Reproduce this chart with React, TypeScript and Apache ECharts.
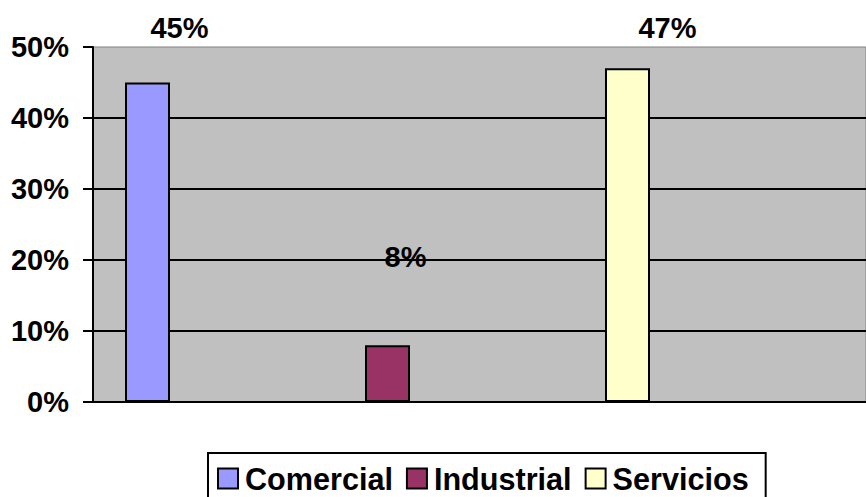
import React, { useEffect, useRef } from 'react';
import * as echarts from 'echarts';

const categories = ['Comercial', 'Industrial', 'Servicios'];
const shares = [45, 8, 47];
const axisSlots = ['', '', '', ''];

const COLORS = ['#9999ff', '#993366', '#ffffcc'];
const LABEL_OFFSETS = [
  [32, -40],
  [18, -74],
  [40, -26],
];
const FONT = "'Liberation Sans', Arial, sans-serif";

export default function App() {
  const ref = useRef<HTMLDivElement>(null);
  useEffect(() => {
    const chart = echarts.init(ref.current!, null, { renderer: 'svg' });
    const labelText = { color: '#000', fontSize: 29, fontWeight: 'bold', fontFamily: FONT };
    chart.setOption({
      animation: false,
      backgroundColor: '#ffffff',
      grid: [
        {
          left: 93,
          top: 47,
          width: 785,
          height: 355,
          show: true,
          backgroundColor: '#c0c0c0',
          borderColor: '#808080',
          borderWidth: 1,
        },
        { left: 27.5, top: 47, width: 720, height: 355 },
      ],
      xAxis: [
        {
          type: 'category',
          gridIndex: 0,
          data: axisSlots,
          axisLine: { lineStyle: { color: '#000', width: 2 } },
          axisTick: { length: 7, lineStyle: { color: '#000', width: 2 } },
          axisLabel: { show: false },
          splitLine: { show: false },
        },
        { type: 'category', gridIndex: 1, data: categories, show: false },
      ],
      yAxis: [
        {
          type: 'value',
          gridIndex: 0,
          min: 0,
          max: 50,
          interval: 10,
          axisLine: { show: true, lineStyle: { color: '#000', width: 2 } },
          axisTick: { show: true, length: 10, lineStyle: { color: '#000', width: 2 } },
          axisLabel: { formatter: '{value}%', margin: 24, ...labelText },
          splitLine: { show: true, showMaxLine: false, lineStyle: { color: '#000', width: 2 } },
        },
        { type: 'value', gridIndex: 1, min: 0, max: 50, show: false },
      ],
      legend: {
        data: categories,
        left: 208,
        top: 453,
        orient: 'horizontal',
        icon: 'rect',
        itemWidth: 20,
        itemHeight: 20,
        itemGap: 13,
        borderColor: '#000',
        borderWidth: 2,
        padding: [10, 17, 20, 9],
        textStyle: { ...labelText, fontSize: 30.6, lineHeight: 30, padding: [0, 0, 0, 2] },
      },
      series: categories.map((name, i) => ({
        name,
        type: 'bar',
        xAxisIndex: 1,
        yAxisIndex: 1,
        barWidth: 45,
        barGap: '-100%',
        data: categories.map((_, j) => (j === i ? shares[i] : '-')),
        itemStyle: { color: COLORS[i], borderColor: '#000', borderWidth: 2 },
        label: {
          show: true,
          position: 'top',
          distance: 0,
          offset: LABEL_OFFSETS[i],
          formatter: (p: any) => `${Math.round(p.value)}%`,
          ...labelText,
        },
      })),
    });
    return () => chart.dispose();
  }, []);
  return (
    <div
      ref={ref}
      style={{ position: 'absolute', left: 0, top: 0, width: 866, height: 497 }}
    />
  );
}
